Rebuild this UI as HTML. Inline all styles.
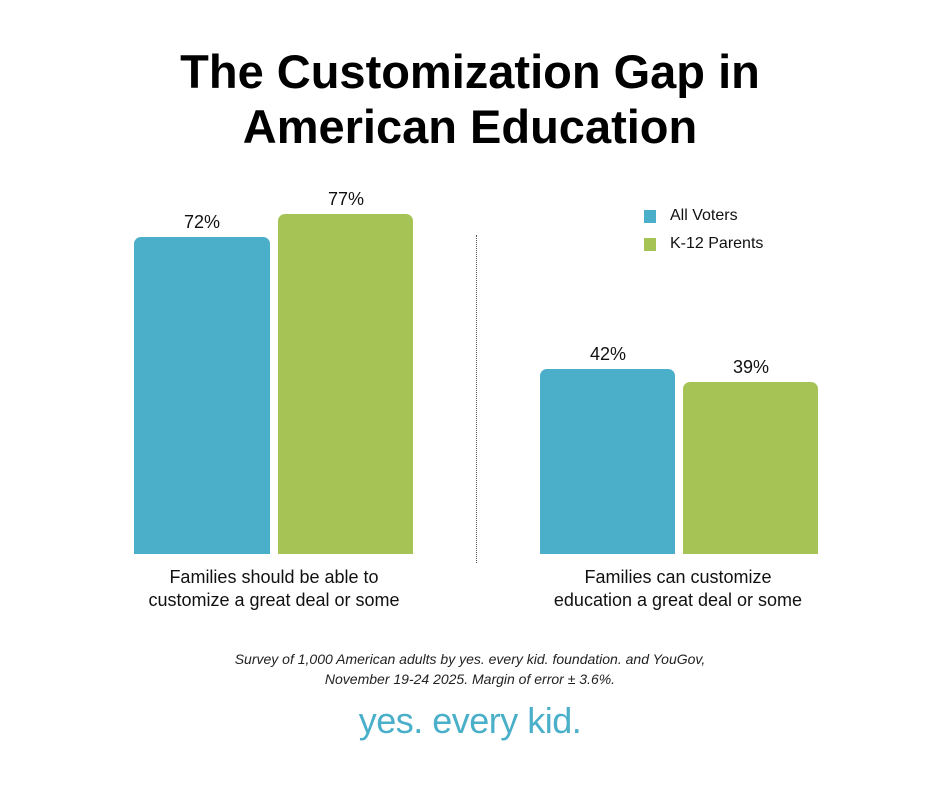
<!DOCTYPE html>
<html><head><style>
body{margin:0;width:940px;height:788px;background:#fff;position:relative;font-family:"Liberation Sans",sans-serif;overflow:hidden}
div{position:absolute}
.t{left:0;width:940px;text-align:center;font-weight:bold;font-size:47px;color:#000}
.b{border-radius:7px 7px 0 0}
.bl{background:#4cafc9}.gr{background:#a6c455}
.v{font-size:18px;text-align:center;width:136px;color:#111}
.lab{font-size:18px;text-align:center;line-height:23px;color:#111}
.f{left:0;width:940px;text-align:center;font-style:italic;font-size:14px;color:#222}
</style></head><body>
<div class="t" style="top:44px">The Customization Gap in</div>
<div class="t" style="top:99px">American Education</div>

<div class="v" style="left:134px;top:212px">72%</div>
<div class="v" style="left:278px;top:189px">77%</div>
<div class="b bl" style="left:134px;top:237px;width:136px;height:317px"></div>
<div class="b gr" style="left:278px;top:214px;width:135px;height:340px"></div>

<div style="left:476px;top:235px;width:0;height:328px;border-left:1px dotted #555"></div>

<div class="v" style="left:540px;top:344px">42%</div>
<div class="v" style="left:683px;top:357px">39%</div>
<div class="b bl" style="left:540px;top:369px;width:135px;height:185px"></div>
<div class="b gr" style="left:683px;top:382px;width:135px;height:172px"></div>

<div class="bl" style="left:644px;top:210px;width:12px;height:13px"></div>
<div style="left:670px;top:207px;font-size:16px;color:#111">All Voters</div>
<div class="gr" style="left:644px;top:238px;width:12px;height:13px"></div>
<div style="left:670px;top:235px;font-size:16px;color:#111">K-12 Parents</div>

<div class="lab" style="left:114px;width:320px;top:566px">Families should be able to<br>customize a great deal or some</div>
<div class="lab" style="left:518px;width:320px;top:566px">Families can customize<br>education a great deal or some</div>

<div class="f" style="top:651px">Survey of 1,000 American adults by yes. every kid. foundation. and YouGov,</div>
<div class="f" style="top:671px">November 19-24 2025. Margin of error ± 3.6%.</div>
<div style="left:0;width:940px;text-align:center;top:700px;font-size:36px;color:#4aafc9;letter-spacing:-0.5px">yes. every kid.</div>
</body></html>
